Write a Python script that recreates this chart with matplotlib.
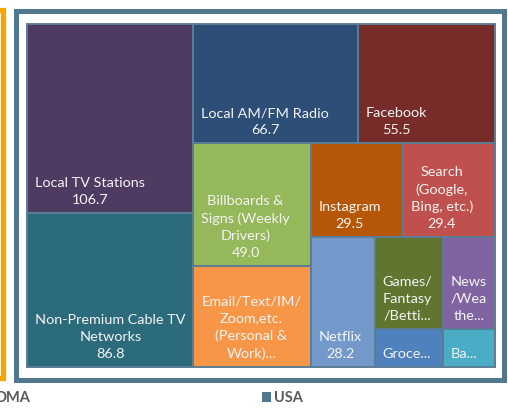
import matplotlib
matplotlib.use("Agg")
import matplotlib.pyplot as plt
from matplotlib.patches import Rectangle

# tile labels as they appear (Excel truncates the small ones)
labels = [
    "Local TV Stations",
    "Non-Premium Cable TV\nNetworks",
    "Local AM/FM Radio",
    "Facebook",
    "Billboards &\nSigns (Weekly\nDrivers)",
    "Email/Text/IM/\nZoom,etc.\n(Personal &\nWork)...",
    "Instagram",
    "Search\n(Google,\nBing, etc.)",
    "Netflix",
    "Games/\nFantasy\n/Betti...",
    "News\n/Wea\nthe...",
    "Groce...",
    "Ba...",
]
values = [106.7, 86.8, 66.7, 55.5, 49.0, 40.0, 29.5, 29.4, 28.2, 21.0, 16.2, 8.9, 6.8]
show_value = [True, True, True, True, True, False, True, True, True, False, False, False, False]
colors = ["#4f3b62", "#2b6b7b", "#2c4e77", "#772c2a", "#94b85a", "#f79646", "#b65708",
          "#c0504d", "#7299c9", "#5f7530", "#8064a2", "#4f81bd", "#4bacc6"]

W, H = 508, 414
# plotting area of the treemap in pixels
X0, Y0, X1, Y1 = 27, 25, 495, 368


def worst(row, side):
    s = sum(row)
    return max(max(side * side * r / (s * s), s * s / (side * side * r)) for r in row)


def squarify(vals, x, y, w, h):
    # vals are areas (already scaled to the rectangle)
    rects = []
    vals = list(vals)
    while vals:
        side = min(w, h)
        row = [vals.pop(0)]
        while vals and worst(row + [vals[0]], side) <= worst(row, side):
            row.append(vals.pop(0))
        s = sum(row)
        if w >= h:
            cw = s / h
            cy = y
            for r in row:
                rh = r / cw
                rects.append((x, cy, cw, rh))
                cy += rh
            x += cw
            w -= cw
        else:
            rh = s / w
            cx = x
            for r in row:
                cw = r / rh
                rects.append((cx, y, cw, rh))
                cx += cw
            y += rh
            h -= rh
    return rects


total = sum(values)
areas = [v / total * (X1 - X0) * (Y1 - Y0) for v in values]
rects = squarify(areas, X0, Y0, X1 - X0, Y1 - Y0)

fig = plt.figure(figsize=(W / 100, H / 100), dpi=100)
ax = fig.add_axes([0, 0, 1, 1])
ax.set_xlim(0, W)
ax.set_ylim(H, 0)
ax.axis("off")

# neighbouring chart's frame (orange) and this chart's frame
ax.add_patch(Rectangle((-20, 11), 22.5, 368, fill=False, ec="#f4a700", lw=3.8))
ax.add_patch(Rectangle((16, 12), 488, 369, fill=False, ec="#52788f", lw=3.6))

for (x, y, w, h), lab, v, sv, c in zip(rects, labels, values, show_value, colors):
    ax.add_patch(Rectangle((x, y), w, h, fc=c, ec="#5b7d95", lw=1.4))
    txt = lab + ("\n%.1f" % v if sv else "")
    ax.text(x + 8, y + h - 8, txt, ha="left", va="bottom", multialignment="center",
            color="#f4f4f4", fontsize=10.4, family="Lato", linespacing=1.5)

# legend fragment at the bottom
ax.text(-4, 398, "DMA", ha="left", va="center", color="#595959", fontsize=10.5,
        family="Lato", fontweight="bold")
ax.add_patch(Rectangle((262, 393), 9, 10, fc="#4f7893", ec="none"))
ax.text(274, 398, "USA", ha="left", va="center", color="#595959", fontsize=10.5,
        family="Lato", fontweight="bold")

fig.savefig("out.png", dpi=100)
